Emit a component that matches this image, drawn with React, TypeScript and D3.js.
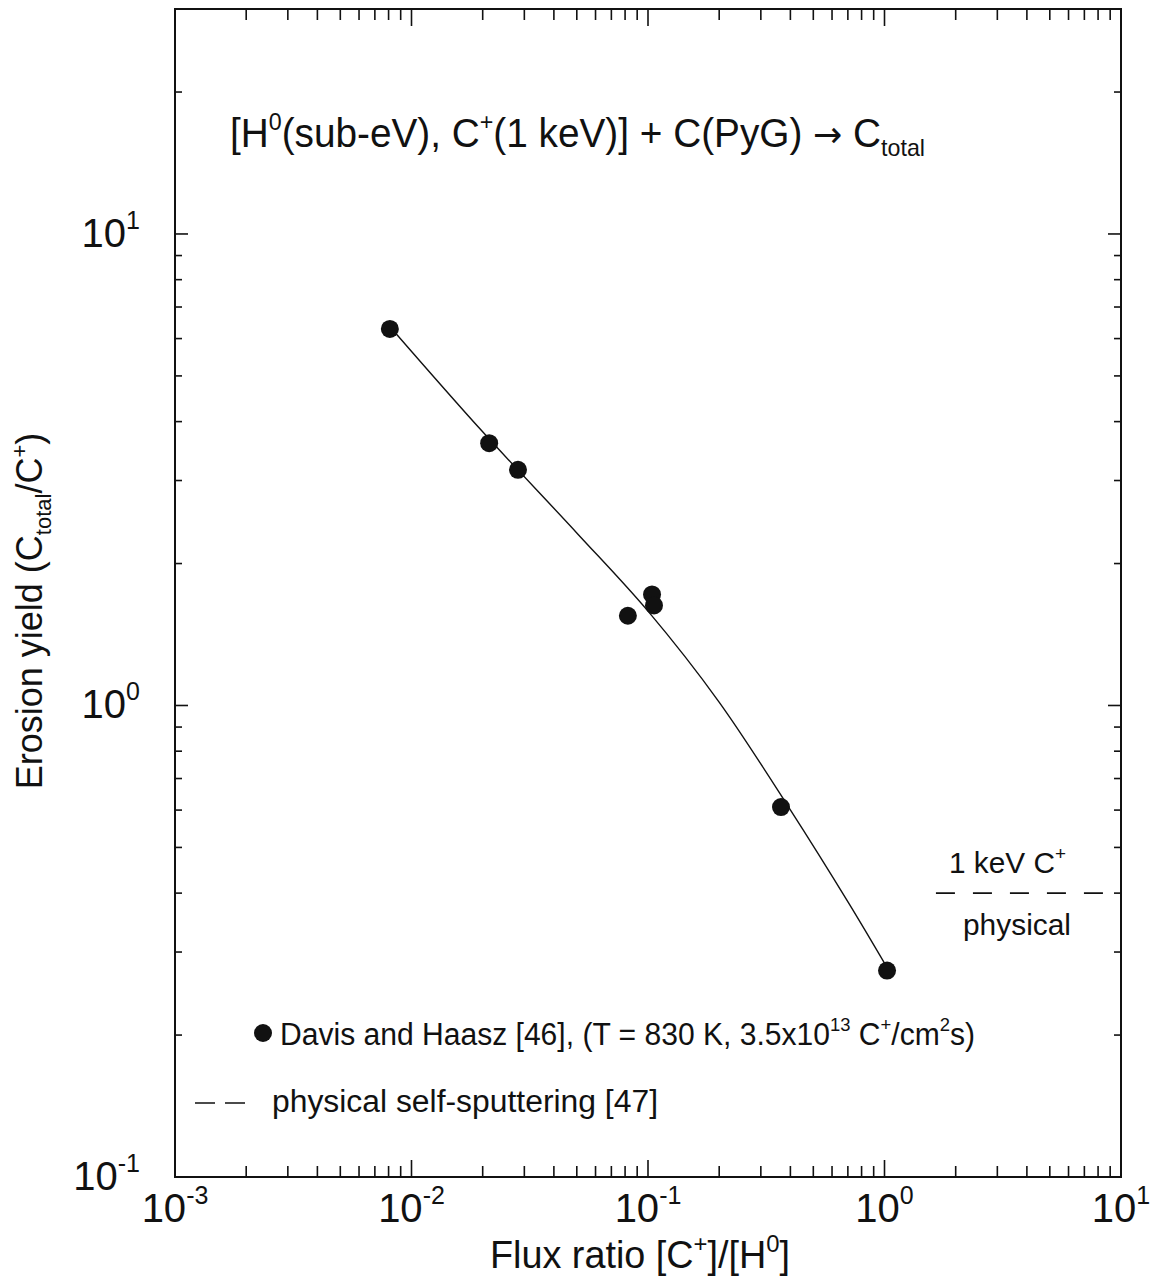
import React from "react";
import * as d3 from "d3";

// Data: Davis and Haasz [46]
const fluxRatio = [0.0081, 0.0213, 0.0282, 0.0822, 0.104, 0.106, 0.365, 1.025];
const erosionYield = [6.29, 3.6, 3.16, 1.55, 1.72, 1.63, 0.609, 0.274];
// Fit curve through the data
const fitFlux = [0.00813, 0.01995, 0.0501, 0.1, 0.1995, 0.398, 0.708, 1.03];
const fitYield = [6.35, 3.81, 2.32, 1.585, 1.018, 0.603, 0.38, 0.277];
// physical self-sputtering, 1 keV C+
const physFlux = [1.65, 10];
const physYield = [0.4, 0.4];
// tick decades
const xDecades = [-3, -2, -1, 0, 1];
const yDecades = [-1, 0, 1];

const W = 1153;
const H = 1283;
const L = 175, R = 1121, T = 9, B = 1177;
const FONT = "'Liberation Sans', Arial, Helvetica, sans-serif";

export default function App() {
  const x = d3.scaleLog().domain([1e-3, 10]).range([L, R]);
  const y = d3.scaleLog().domain([0.1, 30]).range([B, T]);

  const xMinor: number[] = [];
  for (let d = -3; d < 1; d++) for (let k = 2; k <= 9; k++) xMinor.push(k * Math.pow(10, d));
  const yMinor: number[] = [];
  for (let d = -1; d <= 1; d++) for (let k = 2; k <= 9; k++) {
    const v = k * Math.pow(10, d);
    if (v < 30) yMinor.push(v);
  }

  const fitPts = fitFlux.map((f, i) => [x(f), y(fitYield[i])] as [number, number]);
  const fitPath = d3.line().curve(d3.curveCatmullRom.alpha(0.5))(fitPts) || "";
  const physPath = d3.line()(physFlux.map((f, i) => [x(f), y(physYield[i])] as [number, number])) || "";

  const xMajLen = 17, xMinLen = 11, yMajLen = 13, yMinLen = 7;

  return (
    <svg width={W} height={H} style={{ display: "block", position: "absolute", left: 0, top: 0, background: "#fff" }} fontFamily={FONT}>
      <rect x={0} y={0} width={W} height={H} fill="#fff" />
      {/* frame */}
      <rect x={L} y={T} width={R - L} height={B - T} fill="none" stroke="#111" strokeWidth={2} />
      {/* ticks */}
      <g stroke="#111" strokeWidth={1.6}>
        {xDecades.map((d) => {
          const px = x(Math.pow(10, d));
          return (
            <g key={"xd" + d}>
              <line x1={px} x2={px} y1={B} y2={B - xMajLen} />
              <line x1={px} x2={px} y1={T} y2={T + xMajLen} />
            </g>
          );
        })}
        {xMinor.map((v, i) => {
          const px = x(v);
          return (
            <g key={"xm" + i}>
              <line x1={px} x2={px} y1={B} y2={B - xMinLen} />
              <line x1={px} x2={px} y1={T} y2={T + xMinLen} />
            </g>
          );
        })}
        {yDecades.map((d) => {
          const py = y(Math.pow(10, d));
          return (
            <g key={"yd" + d}>
              <line x1={L} x2={L + yMajLen} y1={py} y2={py} />
              <line x1={R} x2={R - yMajLen} y1={py} y2={py} />
            </g>
          );
        })}
        {yMinor.map((v, i) => {
          const py = y(v);
          return (
            <g key={"ym" + i}>
              <line x1={L} x2={L + yMinLen} y1={py} y2={py} />
              <line x1={R} x2={R - yMinLen} y1={py} y2={py} />
            </g>
          );
        })}
      </g>
      {/* x tick labels */}
      <g fontSize={40} fill="#111" textAnchor="middle">
        {xDecades.map((d) => (
          <text key={"xl" + d} x={x(Math.pow(10, d))} y={1222}>
            10<tspan fontSize={25} dy={-18}>{d}</tspan>
          </text>
        ))}
      </g>
      {/* y tick labels */}
      <g fontSize={40} fill="#111" textAnchor="end">
        {yDecades.map((d) => (
          <text key={"yl" + d} x={140} y={y(Math.pow(10, d)) + 13}>
            10<tspan fontSize={25} dy={-18}>{d}</tspan>
          </text>
        ))}
      </g>
      {/* axis titles */}
      <text x={490} y={1268} fontSize={38} fill="#111" textLength={300} lengthAdjust="spacingAndGlyphs">
        Flux ratio [C<tspan fontSize={24} dy={-16}>+</tspan><tspan dy={16}>]/[H</tspan><tspan fontSize={24} dy={-16}>0</tspan><tspan dy={16}>]</tspan>
      </text>
      <text transform={`translate(42,611) rotate(-90)`} textAnchor="middle" fontSize={36} fill="#111">
        Erosion yield (C<tspan fontSize={22} dy={9}>total</tspan><tspan dy={-9}>/C</tspan><tspan fontSize={22} dy={-15}>+</tspan><tspan dy={15}>)</tspan>
      </text>
      {/* title */}
      <text x={230} y={147} fontSize={40} fill="#111" textLength={695} lengthAdjust="spacingAndGlyphs">
        [H<tspan fontSize={24} dy={-17}>0</tspan><tspan dy={17}>(sub-eV), C</tspan><tspan fontSize={24} dy={-17}>+</tspan><tspan dy={17}>(1 keV)] + C(PyG) </tspan><tspan fontFamily="'DejaVu Sans', sans-serif" fontSize={36}>→</tspan><tspan> C</tspan><tspan fontSize={24} dy={9}>total</tspan>
      </text>
      {/* fit curve */}
      <path d={fitPath} fill="none" stroke="#111" strokeWidth={1.4} />
      {/* physical sputtering */}
      <path d={physPath} fill="none" stroke="#111" strokeWidth={1.6} strokeDasharray="19 18" />
      <text x={949} y={873} fontSize={30} fill="#111" textLength={117} lengthAdjust="spacingAndGlyphs">
        1 keV C<tspan fontSize={19} dy={-13}>+</tspan>
      </text>
      <text x={963} y={935} fontSize={30} fill="#111" textLength={108} lengthAdjust="spacingAndGlyphs">physical</text>
      {/* data points */}
      <g fill="#111">
        {fluxRatio.map((f, i) => (
          <circle key={"p" + i} cx={x(f)} cy={y(erosionYield[i])} r={9} />
        ))}
      </g>
      {/* legend */}
      <circle cx={263} cy={1033} r={9} fill="#111" />
      <text x={280} y={1045} fontSize={31} fill="#111" textLength={695} lengthAdjust="spacingAndGlyphs">
        Davis and Haasz [46], (T = 830 K, 3.5x10<tspan fontSize={19} dy={-14}>13</tspan><tspan dy={14}> C</tspan><tspan fontSize={19} dy={-14}>+</tspan><tspan dy={14}>/cm</tspan><tspan fontSize={19} dy={-14}>2</tspan><tspan dy={14}>s)</tspan>
      </text>
      <line x1={195} x2={245} y1={1103} y2={1103} stroke="#111" strokeWidth={1.6} strokeDasharray="20 10" />
      <text x={272} y={1112} fontSize={31} fill="#111" textLength={386} lengthAdjust="spacingAndGlyphs">
        physical self-sputtering [47]
      </text>
    </svg>
  );
}
